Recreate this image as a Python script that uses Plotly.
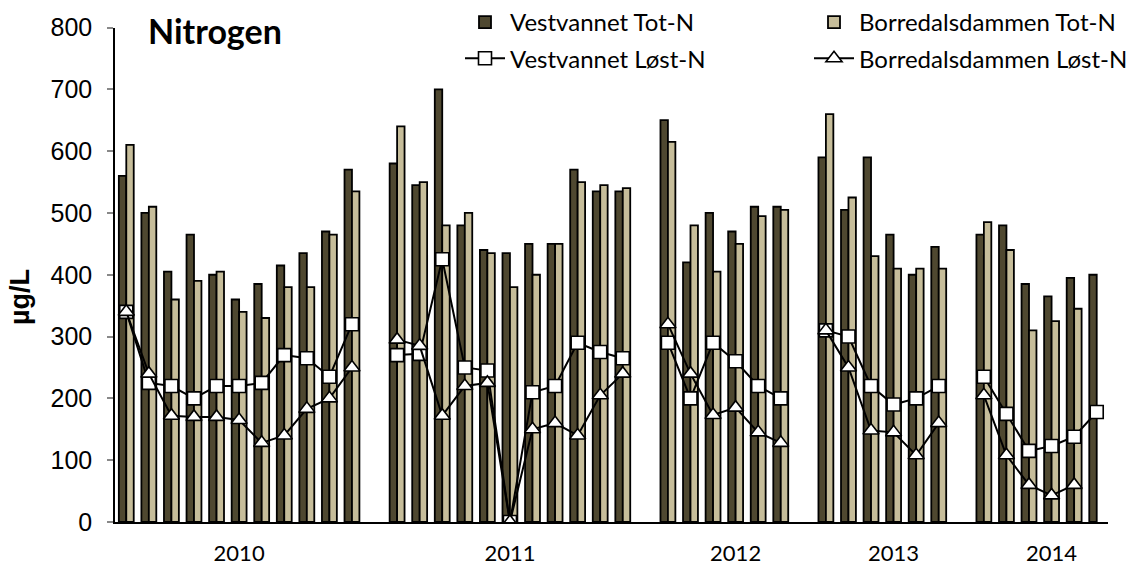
import plotly.graph_objects as go

years = ["2010", "2011", "2012", "2013", "2014"]
samples_per_year = [11, 11, 6, 6, 6]
year_label_slots = [5, 17, 27, 34, 41]

vest_tot = [560, 500, 405, 465, 400, 360, 385, 415, 435, 470, 570,
            580, 545, 700, 480, 440, 435, 450, 450, 570, 535, 535,
            650, 420, 500, 470, 510, 510,
            590, 505, 590, 465, 400, 445,
            465, 480, 385, 365, 395, 400]
borr_tot = [610, 510, 360, 390, 405, 340, 330, 380, 380, 465, 535,
            640, 550, 480, 500, 435, 380, 400, 450, 550, 545, 540,
            615, 480, 405, 450, 495, 505,
            660, 525, 430, 410, 410, 410,
            485, 440, 310, 325, 345, None]
vest_lost = [340, 225, 220, 200, 220, 220, 225, 270, 265, 235, 320,
             270, 272, 425, 250, 245, 0, 210, 220, 290, 275, 265,
             290, 200, 290, 260, 220, 200,
             310, 300, 220, 190, 200, 220,
             235, 175, 115, 123, 138, 178]
borr_lost = [340, 240, 172, 170, 170, 165, 128, 140, 183, 200, 250,
             295, 285, 172, 220, 225, 0, 150, 160, 140, 205, 240,
             320, 240, 173, 185, 145, 128,
             310, 250, 148, 145, 108, 160,
             205, 108, 60, 43, 60, None]

# slot positions: one empty slot between years
xs = []
slot = 0
for n in samples_per_year:
    for i in range(n):
        xs.append(slot)
        slot += 1
    slot += 1

def with_gaps(vals):
    ox, oy = [], []
    k = 0
    for n in samples_per_year:
        for i in range(n):
            ox.append(xs[k]); oy.append(vals[k]); k += 1
        ox.append(xs[k - 1] + 1); oy.append(None)
    return ox, oy

DARK = "#4f4830"
LIGHT = "#c6bd9a"
LEG_FONT = dict(family="Lato, Liberation Sans", size=24, color="black")

fig = go.Figure()
fig.add_trace(go.Bar(x=xs, y=vest_tot, name="Vestvannet Tot-N", legend="legend",
                     legendgroup="a",
                     marker=dict(color=DARK, line=dict(color="black", width=1.8))))
fig.add_trace(go.Bar(x=xs, y=borr_tot, name="Borredalsdammen Tot-N", legend="legend2",
                     legendgroup="b",
                     marker=dict(color=LIGHT, line=dict(color="black", width=1.8))))
lx, ly = with_gaps(vest_lost)
fig.add_trace(go.Scatter(x=lx, y=ly, name="Vestvannet Løst-N", mode="lines+markers",
                         legend="legend", legendgroup="c",
                         connectgaps=False,
                         line=dict(color="black", width=2),
                         marker=dict(symbol="square", size=13, color="white",
                                     line=dict(color="black", width=1.6))))
lx, ly = with_gaps(borr_lost)
fig.add_trace(go.Scatter(x=lx, y=ly, name="Borredalsdammen Løst-N", mode="lines+markers",
                         legend="legend2", legendgroup="d",
                         connectgaps=False,
                         line=dict(color="black", width=2),
                         marker=dict(symbol="triangle-up", size=14, color="white",
                                     line=dict(color="black", width=1.6))))

# paper coords: y=0 at pixel 522, y=1 at pixel 0 (height 522)
def py(p):
    return (522 - p) / 522

def px(p):
    return (p - 115) / 993

leg_common = dict(orientation="v", yanchor="top", xanchor="left", font=LEG_FONT,
                  traceorder="grouped", tracegroupgap=2, itemwidth=40,
                  bgcolor="rgba(0,0,0,0)", borderwidth=0)

fig.update_layout(
    width=1140, height=567,
    margin=dict(l=115, r=32, t=0, b=45),
    paper_bgcolor="white", plot_bgcolor="white",
    barmode="group", bargap=0.34, bargroupgap=0.0,
    showlegend=True,
    legend=dict(x=px(460), y=1.0, **leg_common),
    legend2=dict(x=px(809), y=1.0, **leg_common),
    xaxis=dict(range=[-0.5, sum(samples_per_year) + len(years) - 1.5],
               automargin=False,
               tickmode="array", tickvals=year_label_slots, ticktext=years,
               showline=True, linecolor="black", linewidth=1.5,
               ticks="", showgrid=False, zeroline=False,
               ticklabelstandoff=11,
               tickfont=dict(family="Lato, Liberation Sans", size=22, color="black")),
    yaxis=dict(domain=[0, py(27.5)], range=[0, 800], tickmode="linear", tick0=0, dtick=100,
               automargin=False,
               showline=True, linecolor="black", linewidth=1.5,
               ticks="outside", ticklen=6, tickcolor="#888888", tickwidth=1.5,
               ticklabelstandoff=10,
               showgrid=False, zeroline=False,
               tickfont=dict(family="Liberation Sans, Arial", size=25, color="black")),
    annotations=[
        dict(text="<b>Nitrogen</b>", xref="paper", yref="paper", x=px(146), y=py(31),
             xanchor="left", yanchor="middle", showarrow=False,
             font=dict(family="Lato, Liberation Sans", size=34, color="black")),
        dict(text="<b>µg/L</b>", xref="paper", yref="paper", x=px(20), y=py(297),
             xanchor="center", yanchor="middle", textangle=-90, showarrow=False,
             font=dict(family="Liberation Sans, Arial", size=27, color="black")),
    ],
)

fig.write_html("out.html", config={"displayModeBar": False},
               post_script="document.body.style.margin='0';")
